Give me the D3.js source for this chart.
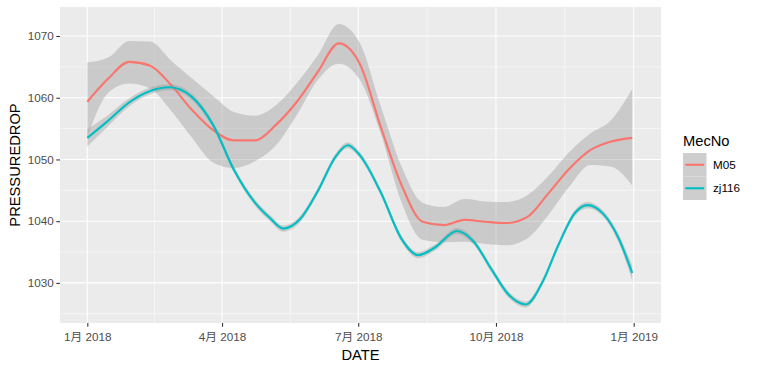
<!doctype html>
<html lang="en">
<head>
<meta charset="utf-8">
<script src="https://cdn.jsdelivr.net/npm/d3@7"></script>
<style>
  body { margin: 0; background: #fff; }
  svg text { font-family: "Liberation Sans", Arial, "Noto Sans CJK SC", sans-serif; }
  .axis path { display: none; }
  .axis line { stroke: #333333; stroke-width: 1.07; }
  .axis text { fill: #4D4D4D; font-size: 11.7px; }
</style>
</head>
<body>
<div id="chart"></div>
<script>
// smooth fit for M05
var m05Dates = ["2018-01-01","2018-01-15","2018-01-29","2018-02-12","2018-02-26","2018-03-12","2018-03-26",
  "2018-04-09","2018-04-23","2018-05-07","2018-05-21","2018-06-04","2018-06-18","2018-07-02","2018-07-16",
  "2018-07-30","2018-08-13","2018-08-27","2018-09-10","2018-09-24","2018-10-08","2018-10-22","2018-11-05",
  "2018-11-19","2018-12-03","2018-12-17","2018-12-31"];
var m05Fit = [1059.35,1063.1,1065.8,1065.2,1062.05,1058.0,1054.75,1053.1,1053.1,1055.6,1059.35,1064.2,1068.8,
  1065.5,1055.3,1045.8,1039.9,1039.35,1040.2,1039.9,1039.7,1040.7,1044.5,1048.5,1051.5,1052.9,1053.5];
var m05Lo = [1053.6,1060.8,1062.3,1061.5,1057.9,1053.5,1049.5,1048.6,1049.7,1052.3,1057.2,1062.9,1065.5,
  1062.9,1054.2,1043.0,1037.0,1036.6,1036.65,1036.3,1036.1,1037.2,1041.0,1045.6,1049.1,1048.8,1045.8];
var m05Hi = [1065.7,1066.5,1069.2,1069.1,1066.0,1063.1,1060.3,1057.7,1057.1,1058.8,1062.4,1066.9,1071.95,
  1068.9,1058.65,1048.8,1043.0,1042.3,1043.6,1043.2,1043.1,1044.2,1047.3,1051.2,1054.2,1056.4,1061.4];

// smooth fit for zj116
var zjDates = ["2018-01-01","2018-01-15","2018-01-29","2018-02-12","2018-02-25","2018-03-12","2018-03-26",
  "2018-04-09","2018-04-23","2018-05-03","2018-05-12","2018-05-23","2018-06-04","2018-06-16","2018-06-24",
  "2018-07-02","2018-07-16","2018-07-30","2018-08-10","2018-08-21","2018-09-05","2018-09-16","2018-09-28",
  "2018-10-10","2018-10-21","2018-11-01","2018-11-12","2018-11-23","2018-12-01","2018-12-12","2018-12-22",
  "2018-12-31"];
var zjFit = [1053.5,1056.3,1059.25,1061.1,1061.7,1060.1,1055.6,1048.3,1043.0,1040.5,1038.8,1040.3,1044.9,
  1050.5,1052.3,1050.7,1044.7,1037.1,1034.5,1035.7,1038.4,1036.7,1032.2,1027.95,1026.5,1030.1,1036.3,
  1041.4,1042.6,1041.1,1037.2,1031.6];
var zjLo = [1052.1,1055.4,1058.6,1060.55,1061.2,1059.6,1055.1,1047.8,1042.5,1040.0,1038.3,1039.8,1044.4,
  1050.0,1051.8,1050.2,1044.2,1036.6,1034.0,1035.2,1037.9,1036.2,1031.7,1027.45,1026.0,1029.6,1035.8,
  1040.9,1042.1,1040.6,1036.5,1030.4];
var zjHi = [1054.9,1057.2,1059.9,1061.65,1062.2,1060.6,1056.1,1048.8,1043.5,1041.0,1039.3,1040.8,1045.4,
  1051.0,1052.8,1051.2,1045.2,1037.6,1035.0,1036.2,1038.9,1037.2,1032.7,1028.45,1027.0,1030.6,1036.8,
  1041.9,1043.1,1041.6,1037.9,1032.8];

var seriesNames = ["M05", "zj116"];
var seriesColors = ["#F8766D", "#00BFC4"];

var xTicks = ["2018-01-01","2018-04-01","2018-07-01","2018-10-01","2019-01-01"];
var xTickLabels = ["1月 2018","4月 2018","7月 2018","10月 2018","1月 2019"];
var yTicks = [1030, 1040, 1050, 1060, 1070];

var W = 757, H = 370;
var panel = {left: 60, right: 661, top: 7, bottom: 323};
var parse = d3.timeParse("%Y-%m-%d");

var svg = d3.select("#chart").append("svg")
    .attr("width", W)
    .attr("height", H);

// date range 2018-01-01 .. 2019-01-01 with ggplot's 5% expansion
var d0 = parse("2018-01-01"), d1 = parse("2019-01-01");
var span = d1 - d0;
var x = d3.scaleTime()
    .domain([new Date(+d0 - span * 0.05), new Date(+d1 + span * 0.05)])
    .range([panel.left, panel.right]);
var y = d3.scaleLinear()
    .domain([1023.5, 1074.7])
    .range([panel.bottom, panel.top]);

svg.append("rect")
    .attr("x", panel.left).attr("y", panel.top)
    .attr("width", panel.right - panel.left)
    .attr("height", panel.bottom - panel.top)
    .attr("fill", "#EBEBEB");

// grid
var tickDates = xTicks.map(parse);
var minorX = d3.pairs(tickDates).map(p => new Date((+p[0] + +p[1]) / 2));
var minorY = d3.pairs(yTicks).map(p => (p[0] + p[1]) / 2).concat([yTicks[0] - 5]);
var grid = svg.append("g").attr("stroke", "#fff");
grid.selectAll(".mx").data(minorX).join("line")
    .attr("x1", d => x(d)).attr("x2", d => x(d))
    .attr("y1", panel.top).attr("y2", panel.bottom)
    .attr("stroke-width", 0.53);
grid.selectAll(".my").data(minorY).join("line")
    .attr("x1", panel.left).attr("x2", panel.right)
    .attr("y1", d => y(d)).attr("y2", d => y(d))
    .attr("stroke-width", 0.53);
grid.selectAll(".gx").data(tickDates).join("line")
    .attr("x1", d => x(d)).attr("x2", d => x(d))
    .attr("y1", panel.top).attr("y2", panel.bottom)
    .attr("stroke-width", 1.07);
grid.selectAll(".gy").data(yTicks).join("line")
    .attr("x1", panel.left).attr("x2", panel.right)
    .attr("y1", d => y(d)).attr("y2", d => y(d))
    .attr("stroke-width", 1.07);

// smooths: ribbon then line, per group
var groups = [
  {dates: m05Dates, fit: m05Fit, lo: m05Lo, hi: m05Hi},
  {dates: zjDates, fit: zjFit, lo: zjLo, hi: zjHi}
];
var curve = d3.curveMonotoneX;
groups.forEach(function(g, i) {
  var rows = g.dates.map((d, k) => ({date: parse(d), fit: g.fit[k], lo: g.lo[k], hi: g.hi[k]}));
  svg.append("path")
      .datum(rows)
      .attr("fill", "#999999")
      .attr("fill-opacity", 0.4)
      .attr("d", d3.area().curve(curve)
          .x(d => x(d.date))
          .y0(d => y(d.lo))
          .y1(d => y(d.hi)));
  svg.append("path")
      .datum(rows)
      .attr("fill", "none")
      .attr("stroke", seriesColors[i])
      .attr("stroke-width", 2.13)
      .attr("d", d3.line().curve(curve)
          .x(d => x(d.date))
          .y(d => y(d.fit)));
});

// axes
svg.append("g")
    .attr("class", "axis")
    .attr("transform", "translate(0," + panel.bottom + ")")
    .call(d3.axisBottom(x).tickValues(tickDates)
        .tickFormat((d, i) => xTickLabels[i])
        .tickSize(3.7).tickPadding(6));
svg.append("g")
    .attr("class", "axis")
    .attr("transform", "translate(" + panel.left + ",0)")
    .call(d3.axisLeft(y).tickValues(yTicks)
        .tickFormat(d3.format("d"))
        .tickSize(3.7).tickPadding(2.5));

svg.append("text")
    .attr("x", (panel.left + panel.right) / 2)
    .attr("y", 360)
    .attr("text-anchor", "middle")
    .attr("font-size", "14.7px")
    .text("DATE");
svg.append("text")
    .attr("transform", "translate(20," + (panel.top + panel.bottom) / 2 + ") rotate(-90)")
    .attr("text-anchor", "middle")
    .attr("font-size", "14.7px")
    .text("PRESSUREDROP");

// legend
var legend = svg.append("g").attr("transform", "translate(683,0)");
legend.append("text")
    .attr("x", 0).attr("y", 146)
    .attr("font-size", "14.7px")
    .text("MecNo");
var keySize = 23.5;
seriesNames.forEach(function(name, i) {
  var top = 153 + i * keySize;
  legend.append("rect")
      .attr("x", 0).attr("y", top)
      .attr("width", keySize).attr("height", keySize)
      .attr("fill", "#F2F2F2");
  legend.append("rect")
      .attr("x", 0).attr("y", top)
      .attr("width", keySize).attr("height", keySize)
      .attr("fill", "#999999").attr("fill-opacity", 0.4);
  legend.append("line")
      .attr("x1", 2.3).attr("x2", keySize - 2.3)
      .attr("y1", top + keySize / 2).attr("y2", top + keySize / 2)
      .attr("stroke", seriesColors[i])
      .attr("stroke-width", 2.13);
  legend.append("text")
      .attr("x", 30).attr("y", top + keySize / 2)
      .attr("dy", "0.35em")
      .attr("font-size", "11.7px")
      .text(name);
});
</script>
</body>
</html>
